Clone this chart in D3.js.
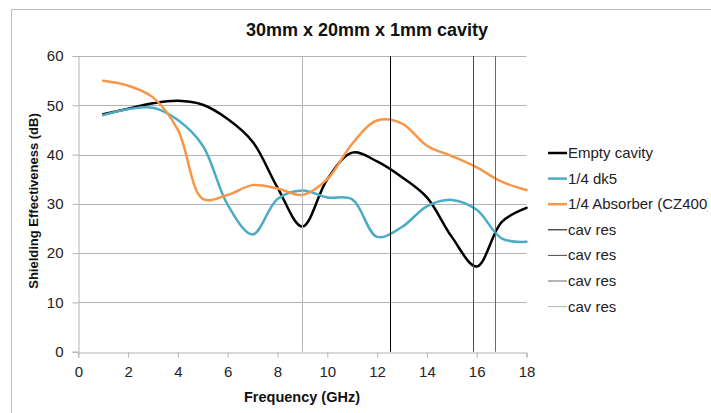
<!DOCTYPE html>
<html><head><meta charset="utf-8">
<script src="https://cdn.jsdelivr.net/npm/d3@7"></script>
<style>
html,body{margin:0;padding:0;background:#fff;overflow:hidden;}
text{font-family:"Liberation Sans",Arial,sans-serif;}
</style></head>
<body>
<svg id="chart" width="711" height="413"></svg>
<script>
// ---- data ----
const freq        = [1, 2, 3, 4, 5, 6, 7, 8, 9, 10, 11, 12, 13, 14, 15, 16, 17, 18];
const emptyCavity = [48.2, 49.3, 50.4, 50.9, 50.1, 47.2, 42.6, 33.3, 25.4, 35.0, 40.4, 38.6, 35.4, 31.3, 23.3, 17.3, 26.3, 29.2];
const dk5         = [48.0, 49.2, 49.5, 47.0, 41.8, 29.8, 23.8, 31.0, 32.7, 31.3, 30.9, 23.3, 25.3, 29.5, 30.8, 28.8, 23.0, 22.3];
const absorber    = [55.0, 54.0, 51.6, 45.0, 31.0, 31.8, 33.8, 33.1, 31.8, 35.0, 42.2, 46.9, 46.3, 41.8, 39.7, 37.4, 34.5, 32.8];
const cavRes      = [12.5, 15.85, 16.75, 9.0];
const cavResColors= ["#000000", "#4a4a4a", "#6a6a6a", "#b5b5b5"];
const seriesNames = ["Empty cavity", "1/4 dk5", "1/4 Absorber (CZ400)", "cav res", "cav res", "cav res", "cav res"];
const seriesColors= ["#000000", "#4bacc6", "#f79646"];
const xTicks      = [0, 2, 4, 6, 8, 10, 12, 14, 16, 18];
const yTicks      = [0, 10, 20, 30, 40, 50, 60];
const titleText   = "30mm x 20mm x 1mm cavity";
const xLabel      = "Frequency (GHz)";
const yLabel      = "Shielding Effectiveness (dB)";

// ---- layout ----
const svg = d3.select("#chart");
const L = 78.3, R = 526.5, T = 56, B = 351.7;
const x = d3.scaleLinear().domain([0, 18]).range([L, R]);
const y = d3.scaleLinear().domain([0, 60]).range([B, T]);

// outer chart border
svg.append("path").attr("d", `M11.5,420 V9.5 H720`).attr("fill", "none").attr("stroke", "#bdbdbd").attr("stroke-width", 1);

// title
svg.append("text").attr("x", 367).attr("y", 36).attr("text-anchor", "middle")
  .attr("font-size", 18).attr("font-weight", "bold").attr("fill", "#111").text(titleText);

// gridlines
svg.append("g").selectAll("line").data(yTicks.filter(d => d > 0)).join("line")
  .attr("x1", L).attr("x2", R).attr("y1", d => Math.round(y(d)) + 0.5).attr("y2", d => Math.round(y(d)) + 0.5)
  .attr("stroke", "#b4b4b4").attr("stroke-width", 1);

// y axis
const yAxis = svg.append("g").attr("transform", `translate(${Math.round(L) + 0.5},0)`)
  .call(d3.axisLeft(y).tickValues(yTicks).tickSize(6).tickPadding(9).tickFormat(d3.format("d")));
yAxis.select(".domain").attr("stroke", "#b4b4b4");
yAxis.selectAll(".tick line").attr("stroke", "#b4b4b4");
yAxis.selectAll("text").attr("font-size", 15).attr("fill", "#222").attr("font-family", "'Liberation Sans',Arial,sans-serif");

// x axis
const xAxis = svg.append("g").attr("transform", `translate(0,${Math.round(B) + 0.5})`)
  .call(d3.axisBottom(x).tickValues(xTicks).tickSize(5).tickPadding(9).tickFormat(d3.format("d")));
xAxis.select(".domain").attr("stroke", "#b4b4b4");
xAxis.selectAll(".tick line").attr("stroke", "#b4b4b4");
xAxis.selectAll("text").attr("font-size", 15).attr("fill", "#222").attr("font-family", "'Liberation Sans',Arial,sans-serif");

// axis titles
svg.append("text").attr("x", 302).attr("y", 402).attr("text-anchor", "middle")
  .attr("font-size", 14.5).attr("font-weight", "bold").attr("fill", "#111").text(xLabel);
svg.append("text").attr("transform", "translate(38,201) rotate(-90)").attr("text-anchor", "middle")
  .attr("font-size", 13).attr("font-weight", "bold").attr("fill", "#111").text(yLabel);

// series
const line = d3.line().x(d => x(d[0])).y(d => y(d[1])).curve(d3.curveCatmullRom.alpha(0.5));
[emptyCavity, dk5, absorber].forEach((vals, i) => {
  svg.append("path").datum(freq.map((f, k) => [f, vals[k]]))
    .attr("d", line).attr("fill", "none").attr("stroke", seriesColors[i])
    .attr("stroke-width", 2.5).attr("stroke-linejoin", "round").attr("stroke-linecap", "round");
});

// cavity resonance markers
cavRes.forEach((f, i) => {
  svg.append("line").attr("x1", Math.round(x(f)) + 0.5).attr("x2", Math.round(x(f)) + 0.5)
    .attr("y1", y(60)).attr("y2", y(0)).attr("stroke", cavResColors[i]).attr("stroke-width", 1);
});

// legend
svg.append("clipPath").attr("id", "lgclip").append("rect").attr("x", 0).attr("y", 0).attr("width", 708).attr("height", 413);
const lg = svg.append("g").attr("clip-path", "url(#lgclip)");
const legendColors = seriesColors.concat(cavResColors);
seriesNames.forEach((name, i) => {
  const cy = 153 + i * 25.6;
  lg.append("line").attr("x1", 548).attr("x2", 567).attr("y1", cy).attr("y2", cy)
    .attr("stroke", legendColors[i]).attr("stroke-width", i < 3 ? 2.5 : 1);
  lg.append("text").attr("x", 568).attr("y", cy + 5).attr("font-size", 15).attr("fill", "#222").text(name);
});
</script>
</body></html>
